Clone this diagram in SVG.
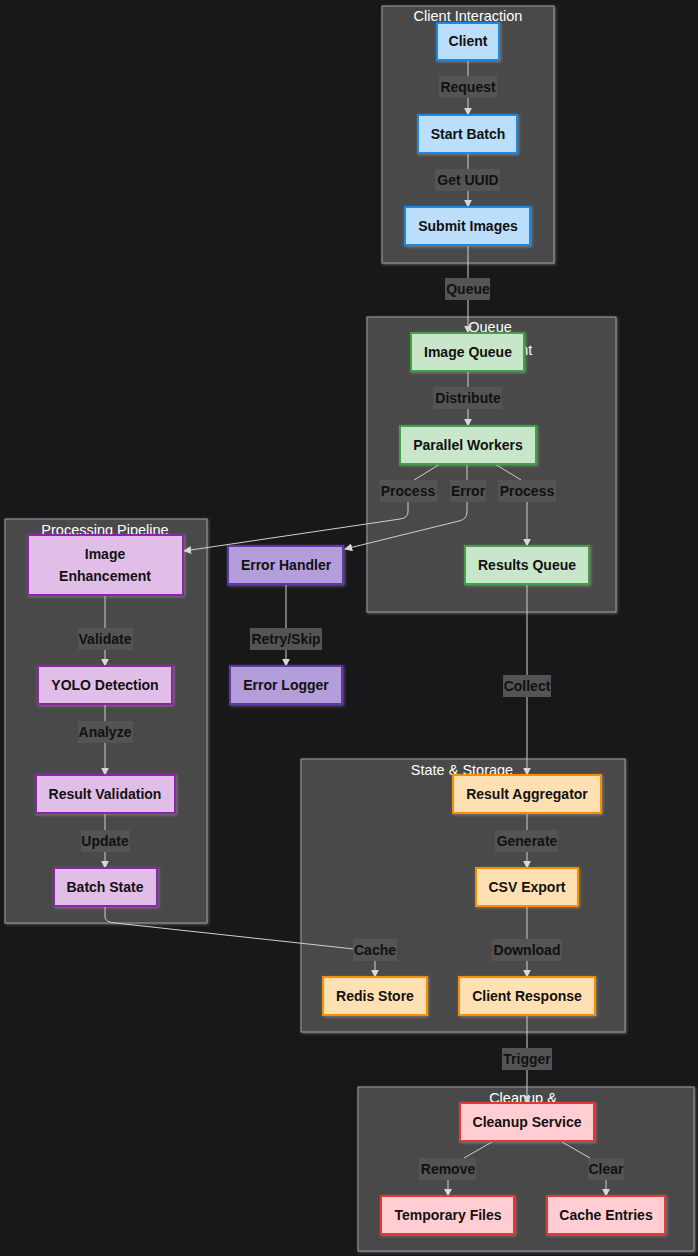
<svg xmlns="http://www.w3.org/2000/svg" width="698" height="1256" viewBox="0 0 698 1256">
<defs>
<style>
.bg{fill:#18181a}
.cl{fill:#484a49;stroke:#9c9c9c;stroke-width:1}
.ct{font-family:"Liberation Sans",Arial,sans-serif;font-size:14.5px;fill:#ffffff;text-anchor:middle}
.e{fill:none;stroke:#d0d0d0;stroke-width:1}
.lb{fill:#545454}
.lt{font-family:"Liberation Sans",Arial,sans-serif;font-size:14px;font-weight:bold;fill:#111;text-anchor:middle}
.nt{font-family:"Liberation Sans",Arial,sans-serif;font-size:14px;font-weight:bold;fill:#111;text-anchor:middle}
.blue{fill:#bbdefb;stroke:#1e88e5;stroke-width:2}
.green{fill:#c8e6c9;stroke:#43a047;stroke-width:2}
.purple{fill:#e1bee7;stroke:#8e24aa;stroke-width:2}
.err{fill:#b39ddb;stroke:#5e35b1;stroke-width:2}
.orange{fill:#ffe0b2;stroke:#fb8c00;stroke-width:2}
.pink{fill:#ffcdd2;stroke:#e53935;stroke-width:2}
</style>
<marker id="ah" viewBox="0 0 10 10" refX="9" refY="5" markerWidth="8" markerHeight="8" markerUnits="userSpaceOnUse" orient="auto">
<path d="M0,0 L10,5 L0,10 z" fill="#d8d8d8"/>
</marker>
<filter id="glow" x="-10%" y="-10%" width="120%" height="130%">
<feDropShadow dx="1" dy="1" stdDeviation="1.5" flood-color="#bbbbbb" flood-opacity="0.45"/>
</filter>
<clipPath id="mgmtclip"><rect x="525" y="336" width="30" height="24"/></clipPath>
</defs>
<rect class="bg" x="0" y="0" width="698" height="1256"/>

<g id="clusters">
<g id="cluster-client"><rect class="cl" x="382" y="6" width="172" height="257" filter="url(#glow)"/><text class="ct" x="468" y="21">Client Interaction</text></g>
<g id="cluster-queue"><rect class="cl" x="367" y="317" width="249" height="295" filter="url(#glow)"/><text class="ct" x="490" y="332">Queue</text><text class="ct" x="490" y="355" clip-path="url(#mgmtclip)">Management</text></g>
<g id="cluster-pipeline"><rect class="cl" x="5" y="519" width="202" height="404" filter="url(#glow)"/><text class="ct" x="105" y="535">Processing Pipeline</text></g>
<g id="cluster-state"><rect class="cl" x="301" y="759" width="324" height="273" filter="url(#glow)"/><text class="ct" x="462" y="775">State &amp; Storage</text></g>
<g id="cluster-cleanup"><rect class="cl" x="358" y="1087" width="336" height="164" filter="url(#glow)"/><text class="ct" x="523" y="1103">Cleanup &amp;</text></g>
</g>

<g id="connectors">
<path class="e" d="M468,60 L468,115" marker-end="url(#ah)"/>
<path class="e" d="M468,153 L468,207" marker-end="url(#ah)"/>
<path class="e" d="M468,245 L468,333" marker-end="url(#ah)"/>
<path class="e" d="M468,371 L468,426" marker-end="url(#ah)"/>
<path class="e" d="M440,464 L414,480 M408,502 L408,512 Q408,518 400,519 L184,551" marker-end="url(#ah)"/>
<path class="e" d="M467,464 L467,480 M467,502 L467,512 Q467,519 459,521 L345,549" marker-end="url(#ah)"/>
<path class="e" d="M495,464 L521,480 M527,502 L527,546" marker-end="url(#ah)"/>
<path class="e" d="M105,595 L105,666" marker-end="url(#ah)"/>
<path class="e" d="M286,584 L286,666" marker-end="url(#ah)"/>
<path class="e" d="M105,704 L105,775" marker-end="url(#ah)"/>
<path class="e" d="M105,813 L105,868" marker-end="url(#ah)"/>
<path class="e" d="M105,906 L105,917 Q105,922 115,923 L354,949 M375,961 L375,977" marker-end="url(#ah)"/>
<path class="e" d="M527,584 L527,775" marker-end="url(#ah)"/>
<path class="e" d="M527,813 L527,868" marker-end="url(#ah)"/>
<path class="e" d="M527,906 L527,977" marker-end="url(#ah)"/>
<path class="e" d="M527,1015 L527,1103" marker-end="url(#ah)"/>
<path class="e" d="M492,1142 L464,1158 M448,1180 L448,1196" marker-end="url(#ah)"/>
<path class="e" d="M562,1142 L590,1158 M606,1180 L606,1196" marker-end="url(#ah)"/>
</g>

<g id="edge-labels">
<rect class="lb" x="439" y="76" width="58" height="22"/><text class="lt" x="468" y="92">Request</text>
<rect class="lb" x="435" y="169" width="65" height="22"/><text class="lt" x="468" y="185">Get UUID</text>
<rect class="lb" x="445" y="278" width="45" height="22"/><text class="lt" x="468" y="294">Queue</text>
<rect class="lb" x="433" y="387" width="69" height="22"/><text class="lt" x="468" y="403">Distribute</text>
<rect class="lb" x="380" y="480" width="57" height="22"/><text class="lt" x="408" y="496">Process</text>
<rect class="lb" x="450" y="480" width="36" height="22"/><text class="lt" x="468" y="496">Error</text>
<rect class="lb" x="498" y="480" width="58" height="22"/><text class="lt" x="527" y="496">Process</text>
<rect class="lb" x="78" y="628" width="55" height="22"/><text class="lt" x="105" y="644">Validate</text>
<rect class="lb" x="250" y="628" width="72" height="22"/><text class="lt" x="286" y="644">Retry/Skip</text>
<rect class="lb" x="78" y="721" width="55" height="22"/><text class="lt" x="105" y="737">Analyze</text>
<rect class="lb" x="81" y="830" width="49" height="22"/><text class="lt" x="105" y="846">Update</text>
<rect class="lb" x="503" y="675" width="48" height="22"/><text class="lt" x="527" y="691">Collect</text>
<rect class="lb" x="495" y="830" width="63" height="22"/><text class="lt" x="527" y="846">Generate</text>
<rect class="lb" x="353" y="939" width="44" height="22"/><text class="lt" x="375" y="955">Cache</text>
<rect class="lb" x="492" y="939" width="70" height="22"/><text class="lt" x="527" y="955">Download</text>
<rect class="lb" x="502" y="1048" width="50" height="22"/><text class="lt" x="527" y="1064">Trigger</text>
<rect class="lb" x="419" y="1158" width="57" height="22"/><text class="lt" x="448" y="1174">Remove</text>
<rect class="lb" x="588" y="1158" width="36" height="22"/><text class="lt" x="606" y="1174">Clear</text>
</g>

<g id="nodes">
<g id="client"><rect class="blue" x="437" y="23" width="62" height="37" filter="url(#glow)"/><text class="nt" x="468" y="46">Client</text></g>
<g id="start-batch"><rect class="blue" x="418" y="115" width="99" height="38" filter="url(#glow)"/><text class="nt" x="468" y="139">Start Batch</text></g>
<g id="submit-images"><rect class="blue" x="405" y="207" width="125" height="38" filter="url(#glow)"/><text class="nt" x="468" y="231">Submit Images</text></g>
<g id="image-queue"><rect class="green" x="411" y="333" width="113" height="38" filter="url(#glow)"/><text class="nt" x="468" y="357">Image Queue</text></g>
<g id="parallel-workers"><rect class="green" x="400" y="426" width="136" height="38" filter="url(#glow)"/><text class="nt" x="468" y="450">Parallel Workers</text></g>
<g id="results-queue"><rect class="green" x="465" y="546" width="124" height="38" filter="url(#glow)"/><text class="nt" x="527" y="570">Results Queue</text></g>
<g id="image-enhancement"><rect class="purple" x="28" y="535" width="155" height="60" filter="url(#glow)"/><text class="nt" x="105" y="559">Image</text><text class="nt" x="105" y="581">Enhancement</text></g>
<g id="yolo-detection"><rect class="purple" x="38" y="666" width="134" height="38" filter="url(#glow)"/><text class="nt" x="105" y="690">YOLO Detection</text></g>
<g id="result-validation"><rect class="purple" x="36" y="775" width="139" height="38" filter="url(#glow)"/><text class="nt" x="105" y="799">Result Validation</text></g>
<g id="batch-state"><rect class="purple" x="54" y="868" width="103" height="38" filter="url(#glow)"/><text class="nt" x="105" y="892">Batch State</text></g>
<g id="error-handler"><rect class="err" x="228" y="546" width="115" height="38" filter="url(#glow)"/><text class="nt" x="286" y="570">Error Handler</text></g>
<g id="error-logger"><rect class="err" x="230" y="666" width="112" height="38" filter="url(#glow)"/><text class="nt" x="286" y="690">Error Logger</text></g>
<g id="result-aggregator"><rect class="orange" x="453" y="775" width="148" height="38" filter="url(#glow)"/><text class="nt" x="527" y="799">Result Aggregator</text></g>
<g id="csv-export"><rect class="orange" x="476" y="868" width="102" height="38" filter="url(#glow)"/><text class="nt" x="527" y="892">CSV Export</text></g>
<g id="redis-store"><rect class="orange" x="323" y="977" width="104" height="38" filter="url(#glow)"/><text class="nt" x="375" y="1001">Redis Store</text></g>
<g id="client-response"><rect class="orange" x="459" y="977" width="136" height="38" filter="url(#glow)"/><text class="nt" x="527" y="1001">Client Response</text></g>
<g id="cleanup-service"><rect class="pink" x="460" y="1103" width="134" height="38" filter="url(#glow)"/><text class="nt" x="527" y="1127">Cleanup Service</text></g>
<g id="temporary-files"><rect class="pink" x="381" y="1196" width="133" height="38" filter="url(#glow)"/><text class="nt" x="448" y="1220">Temporary Files</text></g>
<g id="cache-entries"><rect class="pink" x="547" y="1196" width="118" height="38" filter="url(#glow)"/><text class="nt" x="606" y="1220">Cache Entries</text></g>
</g>
</svg>
